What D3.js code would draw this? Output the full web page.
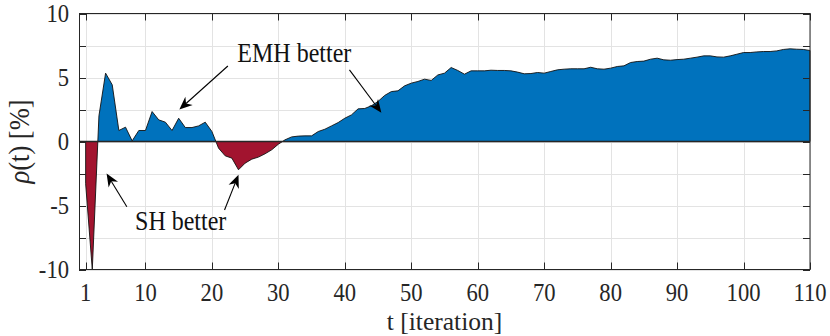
<!DOCTYPE html>
<html>
<head>
<meta charset="utf-8">
<script src="https://cdn.jsdelivr.net/npm/d3@7"></script>
<style>
  body { margin: 0; background: #fff; }
</style>
</head>
<body>
<svg id="svg" width="830" height="336"></svg>
<script>
// iteration index and rho(t) in percent
let iterations = d3.range(1, 111);
let rho = [
    -3.3, -10, 2.0, 5.34, 4.43, 0.86, 1.12, 0.05, 0.86, 0.86,
    2.34, 1.69, 1.51, 0.86, 1.82, 1.09, 1.09, 1.22, 1.51, 0.78,
    -0.52, -1.12, -1.3, -2.21, -1.69, -1.38, -1.22, -0.96, -0.65, -0.21,
    0.13, 0.36, 0.42, 0.44, 0.44, 0.78, 0.96, 1.22, 1.48, 1.82,
    2.08, 2.55, 2.58, 2.79, 3.13, 3.6, 3.9, 3.96, 4.35, 4.56,
    4.69, 4.87, 4.77, 5.2, 5.34, 5.78, 5.55, 5.26, 5.52, 5.52,
    5.52, 5.57, 5.55, 5.55, 5.52, 5.42, 5.29, 5.31, 5.39, 5.34,
    5.47, 5.6, 5.65, 5.68, 5.68, 5.68, 5.8, 5.68, 5.65, 5.73,
    5.86, 5.91, 6.17, 6.25, 6.28, 6.43, 6.51, 6.38, 6.35, 6.4,
    6.43, 6.51, 6.59, 6.69, 6.69, 6.61, 6.59, 6.69, 6.82, 6.95,
    6.95, 7.0, 7.03, 7.03, 7.08, 7.19, 7.24, 7.21, 7.19, 7.11
];

let xTicks = [1, 10, 20, 30, 40, 50, 60, 70, 80, 90, 100, 110];
let yTicks = [-10, -7.5, -5, -2.5, 0, 2.5, 5, 7.5, 10];

// annotations in data coordinates: label and arrows (tail -> tip)
let labels = [
    { text: "EMH better", t: 32.4, v: 6.25 },
    { text: "SH better", t: 15.3, v: -6.9 }
];
let arrows = [
    { from: [22.4, 5.9], to: [15.1, 2.5] },
    { from: [40.7, 5.6], to: [45.5, 2.25] },
    { from: [7.2, -5.1], to: [4.15, -2.5] },
    { from: [21.9, -5.35], to: [24.0, -2.6] }
];

const serif = "'Liberation Serif', 'Times New Roman', Tinos, 'DejaVu Serif', serif";
const stretch = 1.1; // the figure's text is a bit taller than it is wide

let svg = d3.select("#svg")
    .attr("font-family", serif)
    .style("font-family", serif);
const plotLeft = 79, plotRight = 810, plotTop = 13.5, plotBottom = 269.5;

let x = d3.scaleLinear().domain([0, 110]).range([plotLeft, plotRight]);
let y = d3.scaleLinear().domain([-10, 10]).range([plotBottom, plotTop]);

let data = iterations.map((t, i) => ({ t: t, v: rho[i] }));

// grid
let grid = svg.append("g");
grid.selectAll(".gx").data(xTicks).enter().append("line")
    .attr("x1", d => Math.round(x(d)) + 0.5).attr("x2", d => Math.round(x(d)) + 0.5)
    .attr("y1", plotTop).attr("y2", plotBottom)
    .attr("stroke", "#e3e3e3");
grid.selectAll(".gy").data(yTicks).enter().append("line")
    .attr("y1", d => Math.round(y(d)) + 0.5).attr("y2", d => Math.round(y(d)) + 0.5)
    .attr("x1", plotLeft).attr("x2", plotRight)
    .attr("stroke", "#e3e3e3");

// area split at zero with clip rectangles
let defs = svg.append("defs");
defs.append("clipPath").attr("id", "above").append("rect")
    .attr("x", plotLeft).attr("y", plotTop)
    .attr("width", plotRight - plotLeft).attr("height", y(0) - plotTop);
defs.append("clipPath").attr("id", "below").append("rect")
    .attr("x", plotLeft).attr("y", y(0))
    .attr("width", plotRight - plotLeft).attr("height", plotBottom - y(0));

let area = d3.area()
    .x(d => x(d.t))
    .y0(y(0))
    .y1(d => y(d.v));

svg.append("path").datum(data)
    .attr("d", area)
    .attr("fill", "#0072BD")
    .attr("clip-path", "url(#above)");
svg.append("path").datum(data)
    .attr("d", area)
    .attr("fill", "#A2142F")
    .attr("clip-path", "url(#below)");
svg.append("path").datum(data)
    .attr("d", area)
    .attr("fill", "none")
    .attr("stroke", "#111")
    .attr("stroke-width", 0.9)
    .attr("stroke-linejoin", "round");

// baseline
svg.append("line")
    .attr("x1", plotLeft).attr("x2", plotRight)
    .attr("y1", y(0)).attr("y2", y(0))
    .attr("stroke", "#262626").attr("stroke-width", 1.6);

// box with inward ticks on all sides
const tickLen = 7;
let axes = svg.append("g").attr("stroke", "#262626").attr("stroke-width", 1);
axes.append("rect")
    .attr("x", plotLeft + 0.5).attr("y", plotTop)
    .attr("width", plotRight - plotLeft - 0.5).attr("height", plotBottom - plotTop)
    .attr("fill", "none");
xTicks.forEach(d => {
    let px = Math.round(x(d)) + 0.5;
    axes.append("line").attr("x1", px).attr("x2", px).attr("y1", plotBottom).attr("y2", plotBottom - tickLen);
    axes.append("line").attr("x1", px).attr("x2", px).attr("y1", plotTop).attr("y2", plotTop + tickLen);
});
yTicks.forEach(d => {
    let py = Math.round(y(d)) + 0.5;
    axes.append("line").attr("x1", plotLeft).attr("x2", plotLeft + tickLen).attr("y1", py).attr("y2", py);
    axes.append("line").attr("x1", plotRight).attr("x2", plotRight - tickLen).attr("y1", py).attr("y2", py);
});

// text helper: place at (px, py) and stretch vertically around the baseline
function addText(px, py, str, size, anchor, fill, sy) {
    return svg.append("text")
        .attr("transform", "translate(" + px + "," + py + ") scale(1," + (sy || stretch) + ")")
        .attr("text-anchor", anchor)
        .attr("fill", fill || "#262626")
        .style("font-size", size + "px")
        .text(str);
}

// tick labels
xTicks.forEach(d => addText(x(d), 301, d, 22.6, "middle"));
yTicks.filter(d => d % 5 === 0).forEach(d => addText(69, y(d) + 8.5, d, 22.6, "end"));

// axis titles
addText((plotLeft + plotRight) / 2, 330, "t [iteration]", 25.5, "middle", "#262626", 1);

let yTitle = svg.append("text")
    .attr("transform", "translate(29," + y(0) + ") rotate(-90) scale(1," + stretch + ")")
    .attr("text-anchor", "middle")
    .attr("fill", "#262626")
    .style("font-size", "26.5px");
yTitle.append("tspan").style("font-style", "italic").text("ρ");
yTitle.append("tspan").text("(t) [%]");

// annotations
labels.forEach(d => addText(x(d.t), y(d.v), d.text, 24, "middle", "#111"));

function drawArrow(a) {
    let x0 = x(a.from[0]), y0 = y(a.from[1]);
    let x1 = x(a.to[0]), y1 = y(a.to[1]);
    let ang = Math.atan2(y1 - y0, x1 - x0);
    let ux = Math.cos(ang), uy = Math.sin(ang);
    let L = 13, W = 5.5, notch = 4;
    let bx = x1 - ux * L, by = y1 - uy * L;
    svg.append("line")
        .attr("x1", x0).attr("y1", y0)
        .attr("x2", x1 - ux * (L - notch)).attr("y2", y1 - uy * (L - notch))
        .attr("stroke", "#000").attr("stroke-width", 1.1);
    let pts = [
        [x1, y1],
        [bx - uy * W, by + ux * W],
        [x1 - ux * (L - notch), y1 - uy * (L - notch)],
        [bx + uy * W, by - ux * W]
    ];
    svg.append("path")
        .attr("d", "M" + pts.map(p => p.join(",")).join("L") + "Z")
        .attr("fill", "#000");
}
arrows.forEach(drawArrow);
</script>
</body>
</html>
